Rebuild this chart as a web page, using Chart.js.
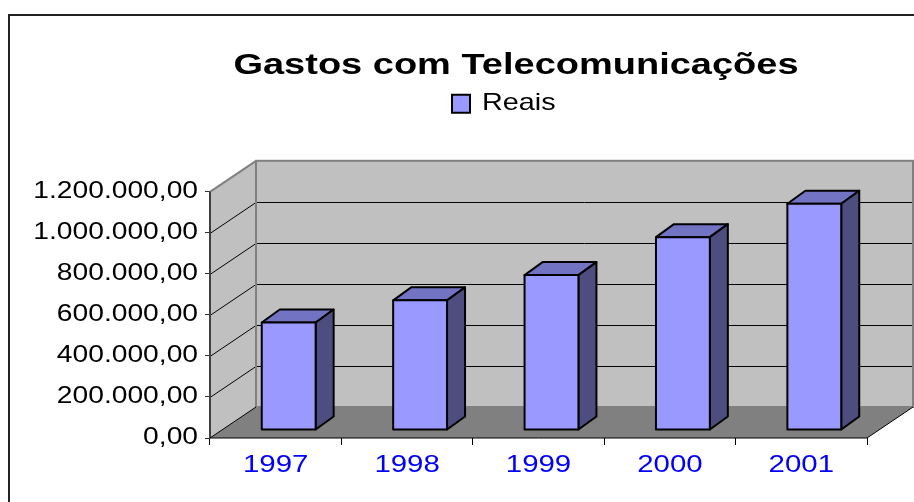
<!DOCTYPE html>
<html lang="pt-BR">
<head>
<meta charset="UTF-8">
<title>Gastos com Telecomunicações</title>
<script src="https://cdn.jsdelivr.net/npm/chart.js"></script>
<style>
  body { margin: 0; padding: 0; background: #fff; }
</style>
</head>
<body>
<canvas id="grafico" width="914" height="502"></canvas>
<script>
// dados
const anos = ['1997', '1998', '1999', '2000', '2001'];
const reais = [524000, 632000, 755000, 940000, 1103000];
const yMax = 1200000;
const yPasso = 200000;

// geometria do efeito 3D (pixels)
const PAREDE = { x: 46, y: -31 };   // profundidade das paredes
const PLANO = { x: 13, y: -8 };     // plano das barras
const BARRA = { x: 18, y: -13 };    // profundidade da barra

function formataReais(v) {
  return Math.round(v).toString().replace(/\B(?=(\d{3})+(?!\d))/g, '.') + ',00';
}

function poligono(ctx, pts, fill, stroke, lw) {
  ctx.beginPath();
  ctx.moveTo(pts[0][0], pts[0][1]);
  for (let i = 1; i < pts.length; i++) ctx.lineTo(pts[i][0], pts[i][1]);
  ctx.closePath();
  if (fill) { ctx.fillStyle = fill; ctx.fill(); }
  if (stroke) { ctx.strokeStyle = stroke; ctx.lineWidth = lw || 1; ctx.stroke(); }
}

const cena3d = {
  id: 'cena3d',
  afterInit(chart) {
    // o texto do original é esticado na horizontal
    const ctx = chart.ctx;
    const fillOrig = ctx.fillText.bind(ctx);
    ctx.fillText = function (txt, x, y) {
      const sx = this.font.indexOf('bold') >= 0 ? 1.31 : 1.2;
      this.save();
      this.translate(x, y);
      this.scale(sx, 1);
      fillOrig(txt, 0, 0);
      this.restore();
    };
    // título e legenda deslocados como no original
    const tb = chart.titleBlock;
    const drawT = tb.draw;
    tb.draw = function (area) {
      const c = this.ctx;
      c.save();
      c.translate(516 - (this.left + this.right) / 2, 0);
      drawT.call(this, area);
      c.restore();
    };
    const lg = chart.legend;
    const fitL = lg.fit;
    lg.fit = function () {
      fitL.call(this);
      this.height += 66;
    };
    const drawL = lg.draw;
    lg.draw = function () {
      const c = this.ctx;
      const hb = this.legendHitBoxes && this.legendHitBoxes[0];
      c.save();
      c.translate(hb ? 452 - hb.left : 0, 0);
      drawL.call(this);
      c.restore();
    };
  },
  beforeDraw(chart) {
    const ctx = chart.ctx;
    ctx.save();
    ctx.strokeStyle = '#222';
    ctx.lineWidth = 2;
    ctx.strokeRect(9, 15, 1000, 1000);
    ctx.restore();
  },
  beforeDatasetsDraw(chart) {
    const ctx = chart.ctx;
    const a = chart.chartArea;
    const ys = chart.scales.y;
    const L = a.left, R = a.right;
    const T = ys.getPixelForValue(yMax), B = ys.getPixelForValue(0);
    const dx = PAREDE.x, dy = PAREDE.y;
    ctx.save();
    // parede do fundo, parede lateral e piso
    ctx.fillStyle = '#c0c0c0';
    ctx.fillRect(L + dx, T + dy, R - L, B - T);
    poligono(ctx, [[L, T], [L + dx, T + dy], [L + dx, B + dy], [L, B]], '#c0c0c0');
    poligono(ctx, [[L, B], [R, B], [R + dx, B + dy], [L + dx, B + dy]], '#808080');
    // linhas de grade
    ctx.strokeStyle = '#000';
    ctx.lineWidth = 1;
    ys.ticks.forEach(t => {
      if (t.value === 0 || t.value === yMax) return;
      const y = Math.round(ys.getPixelForValue(t.value)) + 0.5;
      ctx.beginPath();
      ctx.moveTo(L, y);
      ctx.lineTo(L + dx, y + dy);
      ctx.lineTo(R + dx, y + dy);
      ctx.stroke();
    });
    // arestas
    ctx.strokeStyle = '#808080';
    ctx.lineWidth = 2;
    ctx.strokeRect(L + dx, T + dy, R - L, B - T);
    ctx.beginPath();
    ctx.moveTo(L, T);
    ctx.lineTo(L + dx, T + dy);
    ctx.stroke();
    ctx.strokeStyle = '#404040';
    ctx.beginPath();
    ctx.moveTo(L, T);
    ctx.lineTo(L, B);
    ctx.stroke();
    ctx.lineWidth = 1;
    ctx.strokeStyle = '#000';
    ctx.beginPath();
    ctx.moveTo(L + dx, B + dy);
    ctx.lineTo(L, B);
    ctx.lineTo(R, B);
    ctx.lineTo(R + dx, B + dy);
    ctx.stroke();

    // barras 3D
    const meta = chart.getDatasetMeta(0);
    meta.data.forEach(el => {
      const p = el.getProps(['x', 'y', 'base', 'width'], true);
      const x0 = p.x - p.width / 2 + PLANO.x, x1 = p.x + p.width / 2 + PLANO.x;
      const y0 = p.y + PLANO.y, y1 = p.base + PLANO.y;
      const bx = BARRA.x, by = BARRA.y;
      ctx.lineJoin = 'round';
      poligono(ctx, [[x0, y0], [x1, y0], [x1 + bx, y0 + by], [x0 + bx, y0 + by]], '#7373c4', '#000', 2);
      poligono(ctx, [[x1, y0], [x1 + bx, y0 + by], [x1 + bx, y1 + by], [x1, y1]], '#4d4d80', '#000', 2);
      poligono(ctx, [[x0, y0], [x1, y0], [x1, y1], [x0, y1]], '#9999ff', '#000', 2);
    });
    ctx.restore();
    return false;
  }
};

new Chart(document.getElementById('grafico'), {
  type: 'bar',
  data: {
    labels: anos,
    datasets: [{
      label: 'Reais',
      data: reais,
      backgroundColor: '#9999ff',
      borderColor: '#000',
      borderWidth: 2,
      barPercentage: 0.41,
      categoryPercentage: 1
    }]
  },
  options: {
    responsive: false,
    devicePixelRatio: 1,
    animation: false,
    layout: { padding: { top: 0, right: 47, bottom: 0, left: 0 } },
    plugins: {
      title: {
        display: true,
        text: 'Gastos com Telecomunicações',
        color: '#000',
        font: { family: 'Liberation Sans', size: 29, weight: 'bold' },
        padding: { top: 49, bottom: 0 }
      },
      legend: {
        display: true,
        labels: {
          color: '#000',
          font: { family: 'Liberation Sans', size: 24 },
          boxWidth: 18,
          boxHeight: 18,
          padding: 8
        }
      },
      tooltip: { enabled: false }
    },
    scales: {
      x: {
        offset: true,
        grid: { offset: true, drawOnChartArea: false, drawTicks: true, tickLength: 7, color: '#000' },
        border: { display: false },
        ticks: { color: '#0000ff', font: { family: 'Liberation Sans', size: 24.5 }, padding: 6 },
        afterFit(scale) { scale.height = 64; }
      },
      y: {
        min: 0,
        max: yMax,
        grid: { drawOnChartArea: false, drawTicks: true, tickLength: 5, color: '#333' },
        border: { display: false },
        ticks: {
          stepSize: yPasso,
          color: '#000',
          font: { family: 'Liberation Sans', size: 23.5 },
          padding: 7,
          callback: v => formataReais(v)
        },
        afterFit(scale) { scale.width = 210; }
      }
    }
  },
  plugins: [cena3d]
});
</script>
</body>
</html>
